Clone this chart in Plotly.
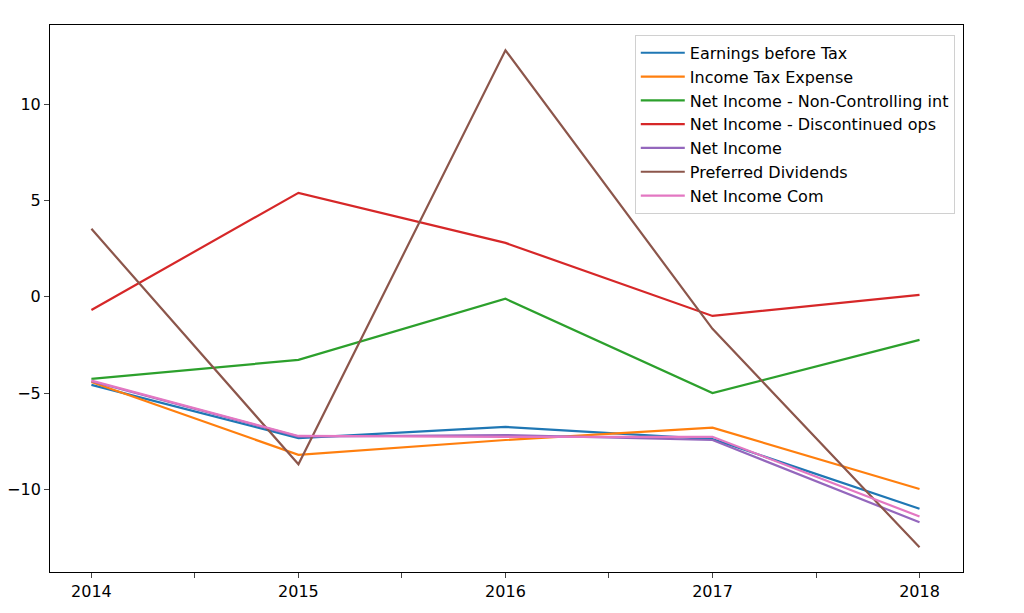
import plotly.graph_objects as go

years = [2014, 2015, 2016, 2017, 2018]

earnings_before_tax = [-4.57, -7.33, -6.75, -7.38, -11.0]
income_tax_expense = [-4.42, -8.2, -7.43, -6.79, -9.97]
net_income_nci = [-4.26, -3.27, -0.1, -4.99, -2.23]
net_income_disc_ops = [-0.68, 5.4, 2.8, -0.99, 0.1]
net_income = [-4.38, -7.25, -7.17, -7.43, -11.7]
preferred_dividends = [3.53, -8.69, 12.8, -1.66, -13.0]
net_income_com = [-4.35, -7.22, -7.27, -7.26, -11.4]

names = ["Earnings before Tax", "Income Tax Expense", "Net Income - Non-Controlling int",
         "Net Income - Discontinued ops", "Net Income", "Preferred Dividends", "Net Income Com"]
series = [earnings_before_tax, income_tax_expense, net_income_nci, net_income_disc_ops,
          net_income, preferred_dividends, net_income_com]
colors = ["#1f77b4", "#ff7f0e", "#2ca02c", "#d62728", "#9467bd", "#8c564b", "#e377c2"]

x_ticks = [2014, 2014.5, 2015, 2015.5, 2016, 2016.5, 2017, 2017.5, 2018]
x_labels = ["2014", "", "2015", "", "2016", "", "2017", "", "2018"]
y_ticks = [-10, -5, 0, 5, 10]
y_labels = ["\u221210", "\u22125", "0", "5", "10"]

fig = go.Figure()
for name, vals, c in zip(names, series, colors):
    fig.add_trace(go.Scatter(x=years, y=vals, mode="lines", name=name, legendgroup=name,
                             line=dict(color=c, width=2.2)))

# page has an 8px body margin, so the figure is a bit smaller than the window
fig.update_layout(
    width=1016, height=605,
    margin=dict(l=42, r=61, t=17, b=41),
    paper_bgcolor="white", plot_bgcolor="white",
    font=dict(family="DejaVu Sans", size=16, color="black"),
    showlegend=True,
    legend=dict(x=0.991, y=0.982, xanchor="right", yanchor="top",
                bgcolor="white", bordercolor="#d0d0d0", borderwidth=1,
                font=dict(size=16), traceorder="grouped", tracegroupgap=0,
                itemwidth=44),
    xaxis=dict(range=[2013.8, 2018.21], tickvals=x_ticks, ticktext=x_labels,
               ticks="outside", ticklen=5, showgrid=False, zeroline=False,
               showline=True, linecolor="black", mirror=True, automargin=False),
    yaxis=dict(range=[-14.28, 14.11], tickvals=y_ticks, ticktext=y_labels,
               ticks="outside", ticklen=5, showgrid=False, zeroline=False,
               showline=True, linecolor="black", mirror=True, automargin=False),
)

fig.write_html("out.html")
